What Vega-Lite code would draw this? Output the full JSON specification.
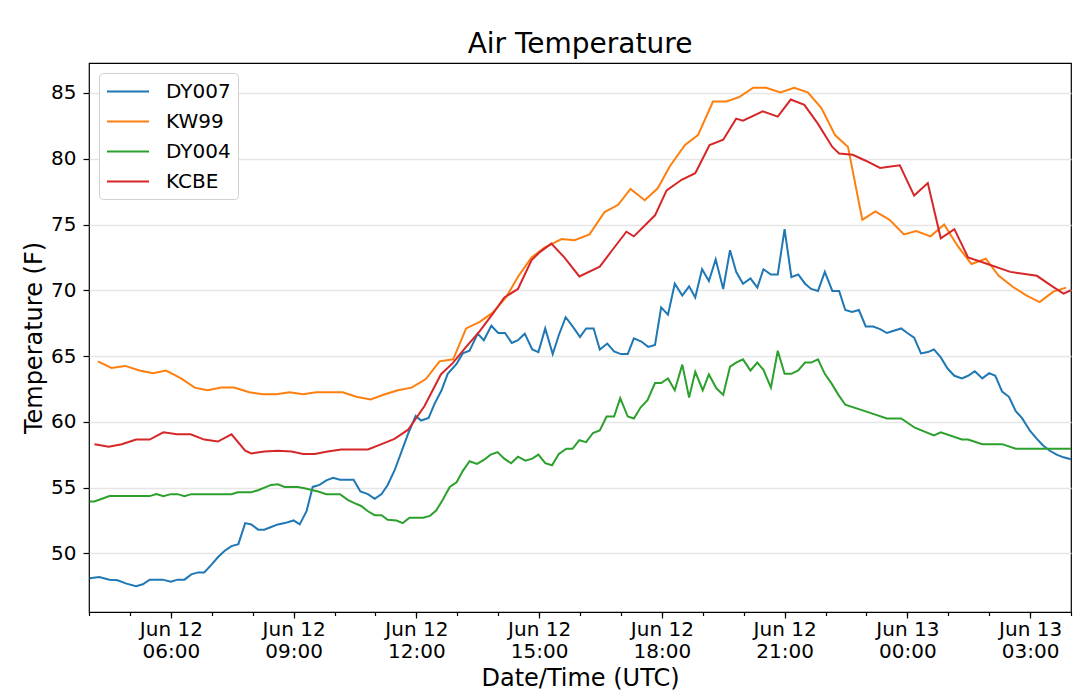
{
  "$schema": "https://vega.github.io/schema/vega-lite/v6.json",
  "width": 982,
  "height": 549,
  "autosize": "none",
  "padding": {"left": 89, "top": 63, "right": 9, "bottom": 87},
  "background": "white",
  "title": {"text": "Air Temperature", "fontSize": 28, "font": "DejaVu Sans", "fontWeight": "normal", "color": "black", "offset": 4},
  "data": {"values": [
    {"station": "DY007", "time": "2021-06-12T04:01:00Z", "temp": 48.1},
    {"station": "DY007", "time": "2021-06-12T04:15:00Z", "temp": 48.2},
    {"station": "DY007", "time": "2021-06-12T04:30:00Z", "temp": 48.0},
    {"station": "DY007", "time": "2021-06-12T04:42:00Z", "temp": 47.95},
    {"station": "DY007", "time": "2021-06-12T04:55:00Z", "temp": 47.7},
    {"station": "DY007", "time": "2021-06-12T05:09:00Z", "temp": 47.5},
    {"station": "DY007", "time": "2021-06-12T05:19:00Z", "temp": 47.65},
    {"station": "DY007", "time": "2021-06-12T05:29:00Z", "temp": 48.0},
    {"station": "DY007", "time": "2021-06-12T05:48:00Z", "temp": 48.0},
    {"station": "DY007", "time": "2021-06-12T06:00:00Z", "temp": 47.85},
    {"station": "DY007", "time": "2021-06-12T06:10:00Z", "temp": 48.0},
    {"station": "DY007", "time": "2021-06-12T06:20:00Z", "temp": 48.0},
    {"station": "DY007", "time": "2021-06-12T06:30:00Z", "temp": 48.4},
    {"station": "DY007", "time": "2021-06-12T06:40:00Z", "temp": 48.55},
    {"station": "DY007", "time": "2021-06-12T06:49:00Z", "temp": 48.55},
    {"station": "DY007", "time": "2021-06-12T06:59:00Z", "temp": 49.1},
    {"station": "DY007", "time": "2021-06-12T07:09:00Z", "temp": 49.7},
    {"station": "DY007", "time": "2021-06-12T07:19:00Z", "temp": 50.2},
    {"station": "DY007", "time": "2021-06-12T07:29:00Z", "temp": 50.55},
    {"station": "DY007", "time": "2021-06-12T07:39:00Z", "temp": 50.7},
    {"station": "DY007", "time": "2021-06-12T07:49:00Z", "temp": 52.3},
    {"station": "DY007", "time": "2021-06-12T07:58:00Z", "temp": 52.2},
    {"station": "DY007", "time": "2021-06-12T08:08:00Z", "temp": 51.8},
    {"station": "DY007", "time": "2021-06-12T08:17:00Z", "temp": 51.8},
    {"station": "DY007", "time": "2021-06-12T08:27:00Z", "temp": 52.0},
    {"station": "DY007", "time": "2021-06-12T08:37:00Z", "temp": 52.2},
    {"station": "DY007", "time": "2021-06-12T08:47:00Z", "temp": 52.3},
    {"station": "DY007", "time": "2021-06-12T09:00:00Z", "temp": 52.5},
    {"station": "DY007", "time": "2021-06-12T09:09:00Z", "temp": 52.2},
    {"station": "DY007", "time": "2021-06-12T09:19:00Z", "temp": 53.2},
    {"station": "DY007", "time": "2021-06-12T09:28:00Z", "temp": 55.05},
    {"station": "DY007", "time": "2021-06-12T09:38:00Z", "temp": 55.2},
    {"station": "DY007", "time": "2021-06-12T09:48:00Z", "temp": 55.55},
    {"station": "DY007", "time": "2021-06-12T09:58:00Z", "temp": 55.75},
    {"station": "DY007", "time": "2021-06-12T10:08:00Z", "temp": 55.6},
    {"station": "DY007", "time": "2021-06-12T10:17:00Z", "temp": 55.6},
    {"station": "DY007", "time": "2021-06-12T10:28:00Z", "temp": 55.6},
    {"station": "DY007", "time": "2021-06-12T10:38:00Z", "temp": 54.7},
    {"station": "DY007", "time": "2021-06-12T10:49:00Z", "temp": 54.5},
    {"station": "DY007", "time": "2021-06-12T10:59:00Z", "temp": 54.15},
    {"station": "DY007", "time": "2021-06-12T11:09:00Z", "temp": 54.5},
    {"station": "DY007", "time": "2021-06-12T11:18:00Z", "temp": 55.2},
    {"station": "DY007", "time": "2021-06-12T11:28:00Z", "temp": 56.3},
    {"station": "DY007", "time": "2021-06-12T11:38:00Z", "temp": 57.7},
    {"station": "DY007", "time": "2021-06-12T11:48:00Z", "temp": 59.1},
    {"station": "DY007", "time": "2021-06-12T11:59:00Z", "temp": 60.45},
    {"station": "DY007", "time": "2021-06-12T12:07:00Z", "temp": 60.1},
    {"station": "DY007", "time": "2021-06-12T12:18:00Z", "temp": 60.3},
    {"station": "DY007", "time": "2021-06-12T12:27:00Z", "temp": 61.4},
    {"station": "DY007", "time": "2021-06-12T12:37:00Z", "temp": 62.4},
    {"station": "DY007", "time": "2021-06-12T12:46:00Z", "temp": 63.65},
    {"station": "DY007", "time": "2021-06-12T12:59:00Z", "temp": 64.4},
    {"station": "DY007", "time": "2021-06-12T13:08:00Z", "temp": 65.2},
    {"station": "DY007", "time": "2021-06-12T13:18:00Z", "temp": 65.4},
    {"station": "DY007", "time": "2021-06-12T13:30:00Z", "temp": 66.7},
    {"station": "DY007", "time": "2021-06-12T13:39:00Z", "temp": 66.2},
    {"station": "DY007", "time": "2021-06-12T13:50:00Z", "temp": 67.3},
    {"station": "DY007", "time": "2021-06-12T14:00:00Z", "temp": 66.75},
    {"station": "DY007", "time": "2021-06-12T14:10:00Z", "temp": 66.75},
    {"station": "DY007", "time": "2021-06-12T14:20:00Z", "temp": 66.0},
    {"station": "DY007", "time": "2021-06-12T14:29:00Z", "temp": 66.2},
    {"station": "DY007", "time": "2021-06-12T14:39:00Z", "temp": 66.7},
    {"station": "DY007", "time": "2021-06-12T14:50:00Z", "temp": 65.5},
    {"station": "DY007", "time": "2021-06-12T14:59:00Z", "temp": 65.3},
    {"station": "DY007", "time": "2021-06-12T15:09:00Z", "temp": 67.1},
    {"station": "DY007", "time": "2021-06-12T15:20:00Z", "temp": 65.15},
    {"station": "DY007", "time": "2021-06-12T15:29:00Z", "temp": 66.6},
    {"station": "DY007", "time": "2021-06-12T15:39:00Z", "temp": 67.95},
    {"station": "DY007", "time": "2021-06-12T15:50:00Z", "temp": 67.2},
    {"station": "DY007", "time": "2021-06-12T16:00:00Z", "temp": 66.45},
    {"station": "DY007", "time": "2021-06-12T16:09:00Z", "temp": 67.1},
    {"station": "DY007", "time": "2021-06-12T16:20:00Z", "temp": 67.1},
    {"station": "DY007", "time": "2021-06-12T16:29:00Z", "temp": 65.5},
    {"station": "DY007", "time": "2021-06-12T16:40:00Z", "temp": 65.95},
    {"station": "DY007", "time": "2021-06-12T16:50:00Z", "temp": 65.35},
    {"station": "DY007", "time": "2021-06-12T17:00:00Z", "temp": 65.15},
    {"station": "DY007", "time": "2021-06-12T17:10:00Z", "temp": 65.15},
    {"station": "DY007", "time": "2021-06-12T17:19:00Z", "temp": 66.35},
    {"station": "DY007", "time": "2021-06-12T17:30:00Z", "temp": 66.1},
    {"station": "DY007", "time": "2021-06-12T17:40:00Z", "temp": 65.7},
    {"station": "DY007", "time": "2021-06-12T17:50:00Z", "temp": 65.85},
    {"station": "DY007", "time": "2021-06-12T17:59:00Z", "temp": 68.7},
    {"station": "DY007", "time": "2021-06-12T18:09:00Z", "temp": 68.15},
    {"station": "DY007", "time": "2021-06-12T18:19:00Z", "temp": 70.5},
    {"station": "DY007", "time": "2021-06-12T18:30:00Z", "temp": 69.6},
    {"station": "DY007", "time": "2021-06-12T18:40:00Z", "temp": 70.3},
    {"station": "DY007", "time": "2021-06-12T18:49:00Z", "temp": 69.45},
    {"station": "DY007", "time": "2021-06-12T18:59:00Z", "temp": 71.6},
    {"station": "DY007", "time": "2021-06-12T19:09:00Z", "temp": 70.7},
    {"station": "DY007", "time": "2021-06-12T19:19:00Z", "temp": 72.35},
    {"station": "DY007", "time": "2021-06-12T19:30:00Z", "temp": 70.1},
    {"station": "DY007", "time": "2021-06-12T19:40:00Z", "temp": 73.05},
    {"station": "DY007", "time": "2021-06-12T19:49:00Z", "temp": 71.4},
    {"station": "DY007", "time": "2021-06-12T19:59:00Z", "temp": 70.5},
    {"station": "DY007", "time": "2021-06-12T20:10:00Z", "temp": 70.9},
    {"station": "DY007", "time": "2021-06-12T20:20:00Z", "temp": 70.2},
    {"station": "DY007", "time": "2021-06-12T20:29:00Z", "temp": 71.6},
    {"station": "DY007", "time": "2021-06-12T20:40:00Z", "temp": 71.2},
    {"station": "DY007", "time": "2021-06-12T20:50:00Z", "temp": 71.2},
    {"station": "DY007", "time": "2021-06-12T21:00:00Z", "temp": 74.65},
    {"station": "DY007", "time": "2021-06-12T21:10:00Z", "temp": 71.0},
    {"station": "DY007", "time": "2021-06-12T21:20:00Z", "temp": 71.2},
    {"station": "DY007", "time": "2021-06-12T21:30:00Z", "temp": 70.5},
    {"station": "DY007", "time": "2021-06-12T21:39:00Z", "temp": 70.1},
    {"station": "DY007", "time": "2021-06-12T21:49:00Z", "temp": 69.95},
    {"station": "DY007", "time": "2021-06-12T21:59:00Z", "temp": 71.4},
    {"station": "DY007", "time": "2021-06-12T22:10:00Z", "temp": 69.95},
    {"station": "DY007", "time": "2021-06-12T22:20:00Z", "temp": 69.95},
    {"station": "DY007", "time": "2021-06-12T22:29:00Z", "temp": 68.5},
    {"station": "DY007", "time": "2021-06-12T22:39:00Z", "temp": 68.35},
    {"station": "DY007", "time": "2021-06-12T22:49:00Z", "temp": 68.5},
    {"station": "DY007", "time": "2021-06-12T22:59:00Z", "temp": 67.25},
    {"station": "DY007", "time": "2021-06-12T23:10:00Z", "temp": 67.25},
    {"station": "DY007", "time": "2021-06-12T23:20:00Z", "temp": 67.05},
    {"station": "DY007", "time": "2021-06-12T23:30:00Z", "temp": 66.75},
    {"station": "DY007", "time": "2021-06-12T23:39:00Z", "temp": 66.9},
    {"station": "DY007", "time": "2021-06-12T23:51:00Z", "temp": 67.1},
    {"station": "DY007", "time": "2021-06-13T00:00:00Z", "temp": 66.75},
    {"station": "DY007", "time": "2021-06-13T00:10:00Z", "temp": 66.4},
    {"station": "DY007", "time": "2021-06-13T00:20:00Z", "temp": 65.2},
    {"station": "DY007", "time": "2021-06-13T00:30:00Z", "temp": 65.3},
    {"station": "DY007", "time": "2021-06-13T00:39:00Z", "temp": 65.5},
    {"station": "DY007", "time": "2021-06-13T00:49:00Z", "temp": 64.9},
    {"station": "DY007", "time": "2021-06-13T00:59:00Z", "temp": 64.05},
    {"station": "DY007", "time": "2021-06-13T01:09:00Z", "temp": 63.5},
    {"station": "DY007", "time": "2021-06-13T01:20:00Z", "temp": 63.3},
    {"station": "DY007", "time": "2021-06-13T01:29:00Z", "temp": 63.5},
    {"station": "DY007", "time": "2021-06-13T01:39:00Z", "temp": 63.85},
    {"station": "DY007", "time": "2021-06-13T01:50:00Z", "temp": 63.3},
    {"station": "DY007", "time": "2021-06-13T02:00:00Z", "temp": 63.7},
    {"station": "DY007", "time": "2021-06-13T02:09:00Z", "temp": 63.5},
    {"station": "DY007", "time": "2021-06-13T02:19:00Z", "temp": 62.3},
    {"station": "DY007", "time": "2021-06-13T02:29:00Z", "temp": 61.9},
    {"station": "DY007", "time": "2021-06-13T02:39:00Z", "temp": 60.8},
    {"station": "DY007", "time": "2021-06-13T02:48:00Z", "temp": 60.3},
    {"station": "DY007", "time": "2021-06-13T03:00:00Z", "temp": 59.3},
    {"station": "DY007", "time": "2021-06-13T03:10:00Z", "temp": 58.7},
    {"station": "DY007", "time": "2021-06-13T03:19:00Z", "temp": 58.2},
    {"station": "DY007", "time": "2021-06-13T03:29:00Z", "temp": 57.8},
    {"station": "DY007", "time": "2021-06-13T03:39:00Z", "temp": 57.5},
    {"station": "DY007", "time": "2021-06-13T03:49:00Z", "temp": 57.3},
    {"station": "DY007", "time": "2021-06-13T04:00:00Z", "temp": 57.15},

    {"station": "KW99", "time": "2021-06-12T04:13:00Z", "temp": 64.6},
    {"station": "KW99", "time": "2021-06-12T04:33:00Z", "temp": 64.1},
    {"station": "KW99", "time": "2021-06-12T04:53:00Z", "temp": 64.25},
    {"station": "KW99", "time": "2021-06-12T05:14:00Z", "temp": 63.9},
    {"station": "KW99", "time": "2021-06-12T05:34:00Z", "temp": 63.7},
    {"station": "KW99", "time": "2021-06-12T05:53:00Z", "temp": 63.9},
    {"station": "KW99", "time": "2021-06-12T06:15:00Z", "temp": 63.3},
    {"station": "KW99", "time": "2021-06-12T06:35:00Z", "temp": 62.6},
    {"station": "KW99", "time": "2021-06-12T06:54:00Z", "temp": 62.4},
    {"station": "KW99", "time": "2021-06-12T07:14:00Z", "temp": 62.6},
    {"station": "KW99", "time": "2021-06-12T07:33:00Z", "temp": 62.6},
    {"station": "KW99", "time": "2021-06-12T07:55:00Z", "temp": 62.25},
    {"station": "KW99", "time": "2021-06-12T08:15:00Z", "temp": 62.1},
    {"station": "KW99", "time": "2021-06-12T08:35:00Z", "temp": 62.1},
    {"station": "KW99", "time": "2021-06-12T08:54:00Z", "temp": 62.25},
    {"station": "KW99", "time": "2021-06-12T09:14:00Z", "temp": 62.1},
    {"station": "KW99", "time": "2021-06-12T09:33:00Z", "temp": 62.25},
    {"station": "KW99", "time": "2021-06-12T09:53:00Z", "temp": 62.25},
    {"station": "KW99", "time": "2021-06-12T10:12:00Z", "temp": 62.25},
    {"station": "KW99", "time": "2021-06-12T10:32:00Z", "temp": 61.9},
    {"station": "KW99", "time": "2021-06-12T10:53:00Z", "temp": 61.7},
    {"station": "KW99", "time": "2021-06-12T11:14:00Z", "temp": 62.1},
    {"station": "KW99", "time": "2021-06-12T11:33:00Z", "temp": 62.4},
    {"station": "KW99", "time": "2021-06-12T11:53:00Z", "temp": 62.6},
    {"station": "KW99", "time": "2021-06-12T12:14:00Z", "temp": 63.25},
    {"station": "KW99", "time": "2021-06-12T12:34:00Z", "temp": 64.6},
    {"station": "KW99", "time": "2021-06-12T12:54:00Z", "temp": 64.75},
    {"station": "KW99", "time": "2021-06-12T13:13:00Z", "temp": 67.1},
    {"station": "KW99", "time": "2021-06-12T13:33:00Z", "temp": 67.6},
    {"station": "KW99", "time": "2021-06-12T13:52:00Z", "temp": 68.3},
    {"station": "KW99", "time": "2021-06-12T14:12:00Z", "temp": 69.5},
    {"station": "KW99", "time": "2021-06-12T14:30:00Z", "temp": 71.1},
    {"station": "KW99", "time": "2021-06-12T14:49:00Z", "temp": 72.5},
    {"station": "KW99", "time": "2021-06-12T15:08:00Z", "temp": 73.25},
    {"station": "KW99", "time": "2021-06-12T15:33:00Z", "temp": 73.9},
    {"station": "KW99", "time": "2021-06-12T15:52:00Z", "temp": 73.8},
    {"station": "KW99", "time": "2021-06-12T16:14:00Z", "temp": 74.25},
    {"station": "KW99", "time": "2021-06-12T16:36:00Z", "temp": 75.95},
    {"station": "KW99", "time": "2021-06-12T16:56:00Z", "temp": 76.5},
    {"station": "KW99", "time": "2021-06-12T17:14:00Z", "temp": 77.7},
    {"station": "KW99", "time": "2021-06-12T17:35:00Z", "temp": 76.85},
    {"station": "KW99", "time": "2021-06-12T17:54:00Z", "temp": 77.75},
    {"station": "KW99", "time": "2021-06-12T18:12:00Z", "temp": 79.45},
    {"station": "KW99", "time": "2021-06-12T18:34:00Z", "temp": 81.05},
    {"station": "KW99", "time": "2021-06-12T18:53:00Z", "temp": 81.8},
    {"station": "KW99", "time": "2021-06-12T19:15:00Z", "temp": 84.35},
    {"station": "KW99", "time": "2021-06-12T19:35:00Z", "temp": 84.35},
    {"station": "KW99", "time": "2021-06-12T19:54:00Z", "temp": 84.7},
    {"station": "KW99", "time": "2021-06-12T20:14:00Z", "temp": 85.4},
    {"station": "KW99", "time": "2021-06-12T20:33:00Z", "temp": 85.4},
    {"station": "KW99", "time": "2021-06-12T20:54:00Z", "temp": 85.05},
    {"station": "KW99", "time": "2021-06-12T21:14:00Z", "temp": 85.4},
    {"station": "KW99", "time": "2021-06-12T21:34:00Z", "temp": 85.05},
    {"station": "KW99", "time": "2021-06-12T21:54:00Z", "temp": 83.85},
    {"station": "KW99", "time": "2021-06-12T22:14:00Z", "temp": 81.8},
    {"station": "KW99", "time": "2021-06-12T22:33:00Z", "temp": 80.9},
    {"station": "KW99", "time": "2021-06-12T22:54:00Z", "temp": 75.35},
    {"station": "KW99", "time": "2021-06-12T23:13:00Z", "temp": 76.0},
    {"station": "KW99", "time": "2021-06-12T23:34:00Z", "temp": 75.35},
    {"station": "KW99", "time": "2021-06-12T23:55:00Z", "temp": 74.25},
    {"station": "KW99", "time": "2021-06-13T00:13:00Z", "temp": 74.5},
    {"station": "KW99", "time": "2021-06-13T00:34:00Z", "temp": 74.1},
    {"station": "KW99", "time": "2021-06-13T00:54:00Z", "temp": 75.0},
    {"station": "KW99", "time": "2021-06-13T01:14:00Z", "temp": 73.35},
    {"station": "KW99", "time": "2021-06-13T01:34:00Z", "temp": 72.0},
    {"station": "KW99", "time": "2021-06-13T01:55:00Z", "temp": 72.4},
    {"station": "KW99", "time": "2021-06-13T02:14:00Z", "temp": 71.1},
    {"station": "KW99", "time": "2021-06-13T02:35:00Z", "temp": 70.25},
    {"station": "KW99", "time": "2021-06-13T02:55:00Z", "temp": 69.6},
    {"station": "KW99", "time": "2021-06-13T03:14:00Z", "temp": 69.1},
    {"station": "KW99", "time": "2021-06-13T03:34:00Z", "temp": 69.9},
    {"station": "KW99", "time": "2021-06-13T03:53:00Z", "temp": 70.2},

    {"station": "DY004", "time": "2021-06-12T04:01:00Z", "temp": 53.95},
    {"station": "DY004", "time": "2021-06-12T04:08:00Z", "temp": 53.95},
    {"station": "DY004", "time": "2021-06-12T04:30:00Z", "temp": 54.35},
    {"station": "DY004", "time": "2021-06-12T05:29:00Z", "temp": 54.35},
    {"station": "DY004", "time": "2021-06-12T05:39:00Z", "temp": 54.5},
    {"station": "DY004", "time": "2021-06-12T05:49:00Z", "temp": 54.35},
    {"station": "DY004", "time": "2021-06-12T06:00:00Z", "temp": 54.5},
    {"station": "DY004", "time": "2021-06-12T06:10:00Z", "temp": 54.5},
    {"station": "DY004", "time": "2021-06-12T06:20:00Z", "temp": 54.35},
    {"station": "DY004", "time": "2021-06-12T06:30:00Z", "temp": 54.5},
    {"station": "DY004", "time": "2021-06-12T07:29:00Z", "temp": 54.5},
    {"station": "DY004", "time": "2021-06-12T07:38:00Z", "temp": 54.65},
    {"station": "DY004", "time": "2021-06-12T07:58:00Z", "temp": 54.65},
    {"station": "DY004", "time": "2021-06-12T08:08:00Z", "temp": 54.8},
    {"station": "DY004", "time": "2021-06-12T08:27:00Z", "temp": 55.2},
    {"station": "DY004", "time": "2021-06-12T08:37:00Z", "temp": 55.25},
    {"station": "DY004", "time": "2021-06-12T08:47:00Z", "temp": 55.05},
    {"station": "DY004", "time": "2021-06-12T09:06:00Z", "temp": 55.05},
    {"station": "DY004", "time": "2021-06-12T09:16:00Z", "temp": 54.95},
    {"station": "DY004", "time": "2021-06-12T09:36:00Z", "temp": 54.7},
    {"station": "DY004", "time": "2021-06-12T09:48:00Z", "temp": 54.5},
    {"station": "DY004", "time": "2021-06-12T10:08:00Z", "temp": 54.5},
    {"station": "DY004", "time": "2021-06-12T10:20:00Z", "temp": 54.05},
    {"station": "DY004", "time": "2021-06-12T10:30:00Z", "temp": 53.8},
    {"station": "DY004", "time": "2021-06-12T10:39:00Z", "temp": 53.6},
    {"station": "DY004", "time": "2021-06-12T10:49:00Z", "temp": 53.2},
    {"station": "DY004", "time": "2021-06-12T10:59:00Z", "temp": 52.9},
    {"station": "DY004", "time": "2021-06-12T11:09:00Z", "temp": 52.9},
    {"station": "DY004", "time": "2021-06-12T11:18:00Z", "temp": 52.55},
    {"station": "DY004", "time": "2021-06-12T11:31:00Z", "temp": 52.5},
    {"station": "DY004", "time": "2021-06-12T11:40:00Z", "temp": 52.3},
    {"station": "DY004", "time": "2021-06-12T11:50:00Z", "temp": 52.7},
    {"station": "DY004", "time": "2021-06-12T12:10:00Z", "temp": 52.7},
    {"station": "DY004", "time": "2021-06-12T12:20:00Z", "temp": 52.85},
    {"station": "DY004", "time": "2021-06-12T12:29:00Z", "temp": 53.25},
    {"station": "DY004", "time": "2021-06-12T12:39:00Z", "temp": 54.1},
    {"station": "DY004", "time": "2021-06-12T12:49:00Z", "temp": 55.05},
    {"station": "DY004", "time": "2021-06-12T12:59:00Z", "temp": 55.4},
    {"station": "DY004", "time": "2021-06-12T13:08:00Z", "temp": 56.25},
    {"station": "DY004", "time": "2021-06-12T13:18:00Z", "temp": 57.0},
    {"station": "DY004", "time": "2021-06-12T13:29:00Z", "temp": 56.8},
    {"station": "DY004", "time": "2021-06-12T13:39:00Z", "temp": 57.1},
    {"station": "DY004", "time": "2021-06-12T13:49:00Z", "temp": 57.5},
    {"station": "DY004", "time": "2021-06-12T13:59:00Z", "temp": 57.7},
    {"station": "DY004", "time": "2021-06-12T14:09:00Z", "temp": 57.2},
    {"station": "DY004", "time": "2021-06-12T14:19:00Z", "temp": 56.85},
    {"station": "DY004", "time": "2021-06-12T14:29:00Z", "temp": 57.35},
    {"station": "DY004", "time": "2021-06-12T14:40:00Z", "temp": 57.05},
    {"station": "DY004", "time": "2021-06-12T14:50:00Z", "temp": 57.2},
    {"station": "DY004", "time": "2021-06-12T14:59:00Z", "temp": 57.5},
    {"station": "DY004", "time": "2021-06-12T15:09:00Z", "temp": 56.85},
    {"station": "DY004", "time": "2021-06-12T15:19:00Z", "temp": 56.7},
    {"station": "DY004", "time": "2021-06-12T15:29:00Z", "temp": 57.55},
    {"station": "DY004", "time": "2021-06-12T15:40:00Z", "temp": 57.95},
    {"station": "DY004", "time": "2021-06-12T15:49:00Z", "temp": 57.95},
    {"station": "DY004", "time": "2021-06-12T15:59:00Z", "temp": 58.6},
    {"station": "DY004", "time": "2021-06-12T16:09:00Z", "temp": 58.45},
    {"station": "DY004", "time": "2021-06-12T16:19:00Z", "temp": 59.15},
    {"station": "DY004", "time": "2021-06-12T16:29:00Z", "temp": 59.35},
    {"station": "DY004", "time": "2021-06-12T16:39:00Z", "temp": 60.4},
    {"station": "DY004", "time": "2021-06-12T16:50:00Z", "temp": 60.4},
    {"station": "DY004", "time": "2021-06-12T16:59:00Z", "temp": 61.8},
    {"station": "DY004", "time": "2021-06-12T17:10:00Z", "temp": 60.4},
    {"station": "DY004", "time": "2021-06-12T17:19:00Z", "temp": 60.25},
    {"station": "DY004", "time": "2021-06-12T17:29:00Z", "temp": 61.1},
    {"station": "DY004", "time": "2021-06-12T17:39:00Z", "temp": 61.65},
    {"station": "DY004", "time": "2021-06-12T17:50:00Z", "temp": 62.95},
    {"station": "DY004", "time": "2021-06-12T17:59:00Z", "temp": 62.95},
    {"station": "DY004", "time": "2021-06-12T18:09:00Z", "temp": 63.3},
    {"station": "DY004", "time": "2021-06-12T18:19:00Z", "temp": 62.4},
    {"station": "DY004", "time": "2021-06-12T18:30:00Z", "temp": 64.35},
    {"station": "DY004", "time": "2021-06-12T18:40:00Z", "temp": 61.85},
    {"station": "DY004", "time": "2021-06-12T18:49:00Z", "temp": 63.8},
    {"station": "DY004", "time": "2021-06-12T19:00:00Z", "temp": 62.4},
    {"station": "DY004", "time": "2021-06-12T19:09:00Z", "temp": 63.6},
    {"station": "DY004", "time": "2021-06-12T19:20:00Z", "temp": 62.55},
    {"station": "DY004", "time": "2021-06-12T19:30:00Z", "temp": 62.05},
    {"station": "DY004", "time": "2021-06-12T19:40:00Z", "temp": 64.2},
    {"station": "DY004", "time": "2021-06-12T19:49:00Z", "temp": 64.5},
    {"station": "DY004", "time": "2021-06-12T19:59:00Z", "temp": 64.75},
    {"station": "DY004", "time": "2021-06-12T20:10:00Z", "temp": 63.9},
    {"station": "DY004", "time": "2021-06-12T20:20:00Z", "temp": 64.5},
    {"station": "DY004", "time": "2021-06-12T20:29:00Z", "temp": 63.95},
    {"station": "DY004", "time": "2021-06-12T20:40:00Z", "temp": 62.6},
    {"station": "DY004", "time": "2021-06-12T20:50:00Z", "temp": 65.4},
    {"station": "DY004", "time": "2021-06-12T21:00:00Z", "temp": 63.65},
    {"station": "DY004", "time": "2021-06-12T21:10:00Z", "temp": 63.65},
    {"station": "DY004", "time": "2021-06-12T21:20:00Z", "temp": 63.9},
    {"station": "DY004", "time": "2021-06-12T21:30:00Z", "temp": 64.5},
    {"station": "DY004", "time": "2021-06-12T21:39:00Z", "temp": 64.5},
    {"station": "DY004", "time": "2021-06-12T21:49:00Z", "temp": 64.75},
    {"station": "DY004", "time": "2021-06-12T21:59:00Z", "temp": 63.65},
    {"station": "DY004", "time": "2021-06-12T22:09:00Z", "temp": 62.9},
    {"station": "DY004", "time": "2021-06-12T22:19:00Z", "temp": 62.05},
    {"station": "DY004", "time": "2021-06-12T22:29:00Z", "temp": 61.3},
    {"station": "DY004", "time": "2021-06-12T23:10:00Z", "temp": 60.6},
    {"station": "DY004", "time": "2021-06-12T23:30:00Z", "temp": 60.25},
    {"station": "DY004", "time": "2021-06-12T23:51:00Z", "temp": 60.25},
    {"station": "DY004", "time": "2021-06-13T00:11:00Z", "temp": 59.55},
    {"station": "DY004", "time": "2021-06-13T00:39:00Z", "temp": 58.97},
    {"station": "DY004", "time": "2021-06-13T00:49:00Z", "temp": 59.2},
    {"station": "DY004", "time": "2021-06-13T01:20:00Z", "temp": 58.65},
    {"station": "DY004", "time": "2021-06-13T01:29:00Z", "temp": 58.65},
    {"station": "DY004", "time": "2021-06-13T01:50:00Z", "temp": 58.3},
    {"station": "DY004", "time": "2021-06-13T02:19:00Z", "temp": 58.3},
    {"station": "DY004", "time": "2021-06-13T02:39:00Z", "temp": 57.95},
    {"station": "DY004", "time": "2021-06-13T04:00:00Z", "temp": 57.95},

    {"station": "KCBE", "time": "2021-06-12T04:08:00Z", "temp": 58.3},
    {"station": "KCBE", "time": "2021-06-12T04:29:00Z", "temp": 58.1},
    {"station": "KCBE", "time": "2021-06-12T04:48:00Z", "temp": 58.3},
    {"station": "KCBE", "time": "2021-06-12T05:09:00Z", "temp": 58.65},
    {"station": "KCBE", "time": "2021-06-12T05:29:00Z", "temp": 58.65},
    {"station": "KCBE", "time": "2021-06-12T05:49:00Z", "temp": 59.2},
    {"station": "KCBE", "time": "2021-06-12T06:09:00Z", "temp": 59.05},
    {"station": "KCBE", "time": "2021-06-12T06:29:00Z", "temp": 59.05},
    {"station": "KCBE", "time": "2021-06-12T06:49:00Z", "temp": 58.65},
    {"station": "KCBE", "time": "2021-06-12T07:09:00Z", "temp": 58.5},
    {"station": "KCBE", "time": "2021-06-12T07:29:00Z", "temp": 59.05},
    {"station": "KCBE", "time": "2021-06-12T07:49:00Z", "temp": 57.8},
    {"station": "KCBE", "time": "2021-06-12T07:58:00Z", "temp": 57.6},
    {"station": "KCBE", "time": "2021-06-12T08:17:00Z", "temp": 57.75},
    {"station": "KCBE", "time": "2021-06-12T08:37:00Z", "temp": 57.8},
    {"station": "KCBE", "time": "2021-06-12T08:57:00Z", "temp": 57.75},
    {"station": "KCBE", "time": "2021-06-12T09:14:00Z", "temp": 57.55},
    {"station": "KCBE", "time": "2021-06-12T09:31:00Z", "temp": 57.55},
    {"station": "KCBE", "time": "2021-06-12T09:50:00Z", "temp": 57.75},
    {"station": "KCBE", "time": "2021-06-12T10:10:00Z", "temp": 57.9},
    {"station": "KCBE", "time": "2021-06-12T10:30:00Z", "temp": 57.9},
    {"station": "KCBE", "time": "2021-06-12T10:49:00Z", "temp": 57.9},
    {"station": "KCBE", "time": "2021-06-12T11:09:00Z", "temp": 58.3},
    {"station": "KCBE", "time": "2021-06-12T11:28:00Z", "temp": 58.7},
    {"station": "KCBE", "time": "2021-06-12T11:48:00Z", "temp": 59.4},
    {"station": "KCBE", "time": "2021-06-12T12:12:00Z", "temp": 61.2},
    {"station": "KCBE", "time": "2021-06-12T12:36:00Z", "temp": 63.6},
    {"station": "KCBE", "time": "2021-06-12T12:54:00Z", "temp": 64.5},
    {"station": "KCBE", "time": "2021-06-12T13:13:00Z", "temp": 65.7},
    {"station": "KCBE", "time": "2021-06-12T13:33:00Z", "temp": 66.9},
    {"station": "KCBE", "time": "2021-06-12T13:52:00Z", "temp": 68.2},
    {"station": "KCBE", "time": "2021-06-12T14:09:00Z", "temp": 69.45},
    {"station": "KCBE", "time": "2021-06-12T14:29:00Z", "temp": 70.1},
    {"station": "KCBE", "time": "2021-06-12T14:49:00Z", "temp": 72.3},
    {"station": "KCBE", "time": "2021-06-12T15:01:00Z", "temp": 72.9},
    {"station": "KCBE", "time": "2021-06-12T15:18:00Z", "temp": 73.55},
    {"station": "KCBE", "time": "2021-06-12T15:37:00Z", "temp": 72.5},
    {"station": "KCBE", "time": "2021-06-12T15:59:00Z", "temp": 71.05},
    {"station": "KCBE", "time": "2021-06-12T16:29:00Z", "temp": 71.8},
    {"station": "KCBE", "time": "2021-06-12T16:48:00Z", "temp": 73.1},
    {"station": "KCBE", "time": "2021-06-12T17:08:00Z", "temp": 74.45},
    {"station": "KCBE", "time": "2021-06-12T17:19:00Z", "temp": 74.1},
    {"station": "KCBE", "time": "2021-06-12T17:50:00Z", "temp": 75.7},
    {"station": "KCBE", "time": "2021-06-12T18:07:00Z", "temp": 77.6},
    {"station": "KCBE", "time": "2021-06-12T18:29:00Z", "temp": 78.4},
    {"station": "KCBE", "time": "2021-06-12T18:49:00Z", "temp": 78.9},
    {"station": "KCBE", "time": "2021-06-12T19:10:00Z", "temp": 81.05},
    {"station": "KCBE", "time": "2021-06-12T19:30:00Z", "temp": 81.45},
    {"station": "KCBE", "time": "2021-06-12T19:49:00Z", "temp": 83.05},
    {"station": "KCBE", "time": "2021-06-12T19:59:00Z", "temp": 82.9},
    {"station": "KCBE", "time": "2021-06-12T20:28:00Z", "temp": 83.6},
    {"station": "KCBE", "time": "2021-06-12T20:50:00Z", "temp": 83.2},
    {"station": "KCBE", "time": "2021-06-12T21:09:00Z", "temp": 84.5},
    {"station": "KCBE", "time": "2021-06-12T21:29:00Z", "temp": 84.1},
    {"station": "KCBE", "time": "2021-06-12T21:49:00Z", "temp": 82.65},
    {"station": "KCBE", "time": "2021-06-12T22:10:00Z", "temp": 80.9},
    {"station": "KCBE", "time": "2021-06-12T22:20:00Z", "temp": 80.4},
    {"station": "KCBE", "time": "2021-06-12T22:40:00Z", "temp": 80.3},
    {"station": "KCBE", "time": "2021-06-12T22:59:00Z", "temp": 79.85},
    {"station": "KCBE", "time": "2021-06-12T23:20:00Z", "temp": 79.3},
    {"station": "KCBE", "time": "2021-06-12T23:49:00Z", "temp": 79.5},
    {"station": "KCBE", "time": "2021-06-13T00:10:00Z", "temp": 77.2},
    {"station": "KCBE", "time": "2021-06-13T00:30:00Z", "temp": 78.15},
    {"station": "KCBE", "time": "2021-06-13T00:49:00Z", "temp": 73.95},
    {"station": "KCBE", "time": "2021-06-13T01:09:00Z", "temp": 74.65},
    {"station": "KCBE", "time": "2021-06-13T01:29:00Z", "temp": 72.5},
    {"station": "KCBE", "time": "2021-06-13T01:49:00Z", "temp": 72.15},
    {"station": "KCBE", "time": "2021-06-13T02:31:00Z", "temp": 71.4},
    {"station": "KCBE", "time": "2021-06-13T03:10:00Z", "temp": 71.1},
    {"station": "KCBE", "time": "2021-06-13T03:31:00Z", "temp": 70.35},
    {"station": "KCBE", "time": "2021-06-13T03:49:00Z", "temp": 69.75},
    {"station": "KCBE", "time": "2021-06-13T04:00:00Z", "temp": 70.0}
  ]},
  "layer": [
    {
      "mark": {"type": "point", "opacity": 0},
      "encoding": {
        "x": {
          "field": "time", "type": "temporal",
          "scale": {"type": "utc", "domain": [1623470400000, 1623556800000]},
          "axis": {
            "orient": "bottom",
            "values": [1623470400000, 1623474000000, 1623477600000, 1623481200000, 1623484800000, 1623488400000, 1623492000000, 1623495600000, 1623499200000, 1623502800000, 1623506400000, 1623510000000, 1623513600000, 1623517200000, 1623520800000, 1623524400000, 1623528000000, 1623531600000, 1623535200000, 1623538800000, 1623542400000, 1623546000000, 1623549600000, 1623553200000, 1623556800000],
            "labels": false, "grid": false, "tickSize": 3.5, "title": null
          }
        }
      }
    },
    {
      "mark": {"type": "line", "strokeWidth": 2},
      "encoding": {
        "x": {
          "field": "time", "type": "temporal",
          "scale": {"type": "utc", "domain": [1623470400000, 1623556800000]},
          "axis": {
            "orient": "bottom",
            "values": [1623477600000, 1623488400000, 1623499200000, 1623510000000, 1623520800000, 1623531600000, 1623542400000, 1623553200000],
            "labelExpr": "[utcFormat(datum.value, '%b %d'), utcFormat(datum.value, '%H:%M')]",
            "labelLineHeight": 22,
            "labelPadding": 1,
            "labelAngle": 0,
            "labelFlush": false,
            "labelOverlap": false,
            "title": "Date/Time (UTC)",
            "titlePadding": 5
          }
        },
        "y": {
          "field": "temp", "type": "quantitative",
          "scale": {"domain": [45.54, 87.28], "nice": false, "zero": false},
          "axis": {"values": [50, 55, 60, 65, 70, 75, 80, 85], "title": "Temperature (F)", "labelPadding": 7, "titlePadding": 4}
        },
        "color": {
          "field": "station", "type": "nominal",
          "scale": {"domain": ["DY007", "KW99", "DY004", "KCBE"], "range": ["#1f77b4", "#ff7f0e", "#2ca02c", "#d62728"]},
          "legend": {
            "title": null, "orient": "top-left", "offset": 10,
            "symbolType": "M-1,0H3", "symbolSize": 441, "symbolStrokeWidth": 2,
            "labelFontSize": 20, "labelFont": "DejaVu Sans", "labelColor": "black", "labelOffset": 37,
            "rowPadding": 8, "padding": 7,
            "fillColor": "white", "strokeColor": "#d0d0d0", "cornerRadius": 4
          }
        }
      }
    }
  ],
  "resolve": {"axis": {"x": "independent"}},
  "config": {
    "font": "DejaVu Sans",
    "view": {"stroke": "black", "strokeWidth": 1.2},
    "axis": {
      "domain": false,
      "labelFont": "DejaVu Sans", "labelFontSize": 20, "labelColor": "black",
      "titleFont": "DejaVu Sans", "titleFontSize": 24, "titleFontWeight": "normal", "titleColor": "black",
      "tickColor": "black", "tickSize": 6, "tickWidth": 1.2,
      "gridColor": "#e6e6e6", "gridWidth": 1.3
    }
  }
}
